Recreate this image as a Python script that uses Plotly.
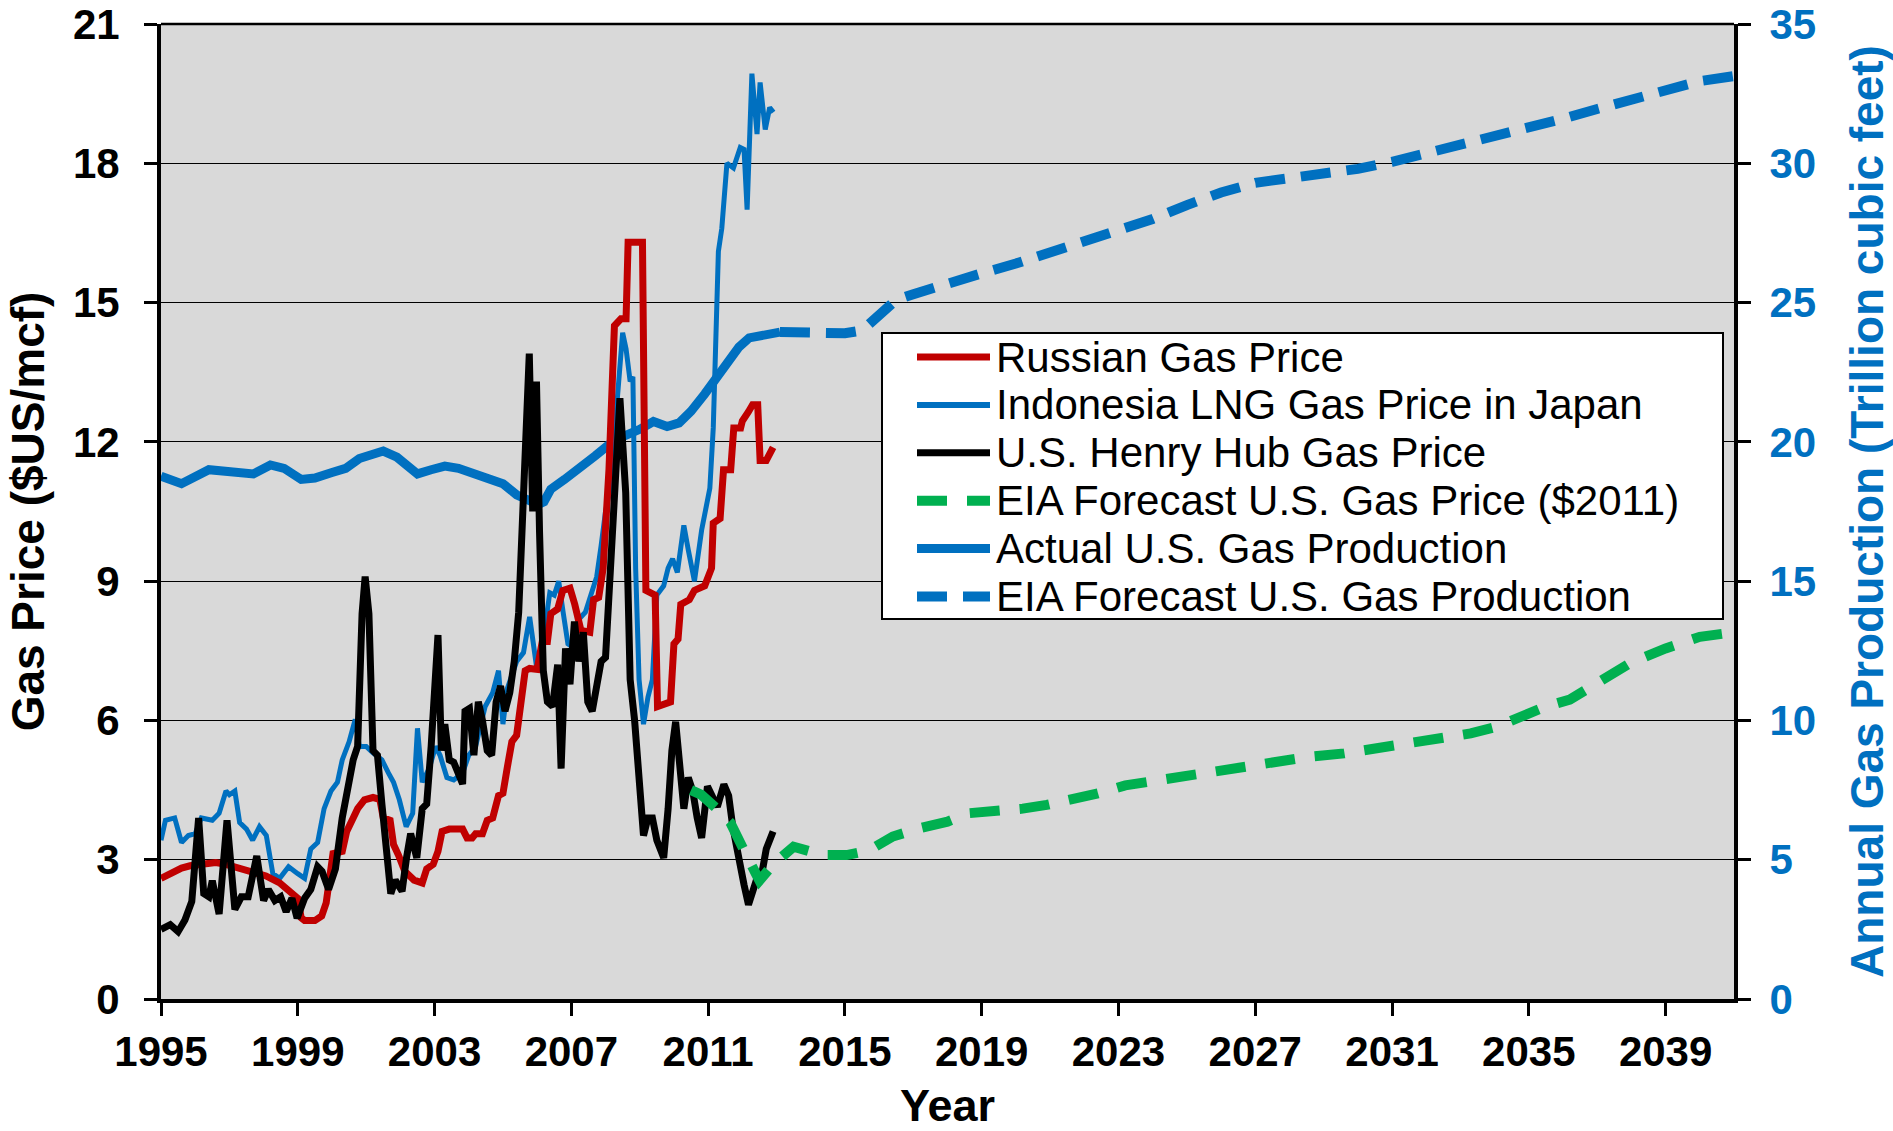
import plotly.graph_objects as go

# ---------------- data ----------------
# U.S. Henry Hub gas price ($US/mcf)
hh_year = [1995.0, 1995.27, 1995.5, 1995.7, 1995.9, 1996.1, 1996.25, 1996.4, 1996.5, 1996.7,
           1996.93, 1997.16, 1997.35, 1997.55, 1997.8, 1998.0, 1998.14, 1998.33, 1998.5, 1998.66,
           1998.83, 1998.98, 1999.2, 1999.38, 1999.58, 1999.71, 1999.9, 2000.1, 2000.3, 2000.43,
           2000.62, 2000.75, 2000.88, 2000.97, 2001.08, 2001.2, 2001.33, 2001.46, 2001.6, 2001.72,
           2001.85, 2002.05, 2002.18, 2002.3, 2002.48, 2002.64, 2002.77, 2002.9, 2003.1, 2003.2,
           2003.3, 2003.43, 2003.56, 2003.69, 2003.82, 2003.89, 2004.02, 2004.15, 2004.28, 2004.4,
           2004.54, 2004.67, 2004.8, 2004.93, 2005.06, 2005.2, 2005.33, 2005.46, 2005.6, 2005.77,
           2005.87, 2005.98, 2006.07, 2006.18, 2006.3, 2006.45, 2006.6, 2006.7, 2006.83, 2006.96,
           2007.09, 2007.22, 2007.35, 2007.48, 2007.61, 2007.74, 2007.87, 2008.0, 2008.13, 2008.26,
           2008.42, 2008.59, 2008.72, 2008.85, 2008.98, 2009.11, 2009.24, 2009.37, 2009.5, 2009.7,
           2009.83, 2009.94, 2010.05, 2010.16, 2010.29, 2010.42, 2010.55, 2010.68, 2010.81, 2010.98,
           2011.14, 2011.27, 2011.46, 2011.6, 2011.72, 2011.9, 2012.05, 2012.18, 2012.31, 2012.45,
           2012.57, 2012.7, 2012.9]
hh_price = [1.5, 1.6, 1.45, 1.7, 2.1, 3.9, 2.27, 2.2, 2.55, 1.83,
            3.85, 1.93, 2.2, 2.2, 3.08, 2.12, 2.36, 2.12, 2.2, 1.88,
            2.17, 1.74, 2.17, 2.36, 2.85, 2.75, 2.36, 2.8, 3.9, 4.4,
            5.15, 5.44, 8.3, 9.1, 8.3, 5.35, 5.25, 4.2, 3.04, 2.27,
            2.56, 2.32, 3.04, 3.56, 3.04, 4.1, 4.2, 5.44, 7.84, 5.35,
            5.92, 5.15, 5.1, 4.87, 4.63, 6.2, 6.26, 5.25, 6.4, 6.0,
            5.35, 5.25, 6.4, 6.74, 6.2, 6.6, 7.27, 8.33, 10.9, 13.9,
            10.5, 13.3, 10.05, 7.07, 6.4, 6.3, 7.2, 4.96, 7.55, 6.78,
            8.13, 7.27, 7.9, 6.4, 6.2, 6.78, 7.27, 7.36, 9.28, 11.2,
            12.94, 10.9, 6.88, 6.0, 4.96, 3.52, 3.9, 3.9, 3.42, 3.04,
            4.1, 5.35, 5.97, 5.25, 4.1, 4.77, 4.48, 3.9, 3.47, 4.58,
            4.29, 4.14, 4.62, 4.38, 3.71, 2.94, 2.46, 2.03, 2.36, 2.65,
            2.7, 3.23, 3.61]

# Russian gas price ($US/mcf)
ru_year = [1995.0, 1995.25, 1995.6, 1995.85, 1996.1, 1996.6, 1996.9, 1997.3, 1997.7, 1998.07,
           1998.47, 1998.73, 1999.0, 1999.1, 1999.2, 1999.5, 1999.7, 1999.83, 2000.0, 2000.03,
           2000.3, 2000.43, 2000.62, 2000.75, 2000.95, 2001.2, 2001.4, 2001.5, 2001.7, 2001.8,
           2001.95, 2002.13, 2002.4, 2002.64, 2002.77, 2002.96, 2003.1, 2003.22, 2003.43, 2003.82,
           2003.95, 2004.1, 2004.2, 2004.4, 2004.54, 2004.7, 2004.87, 2005.0, 2005.13, 2005.26,
           2005.4, 2005.52, 2005.65, 2005.78, 2006.0, 2006.15, 2006.3, 2006.4, 2006.6, 2006.75,
           2006.96, 2007.1, 2007.28, 2007.54, 2007.65, 2007.8, 2007.93, 2008.1, 2008.26, 2008.45,
           2008.6, 2008.66, 2009.08, 2009.18, 2009.45, 2009.52, 2009.9, 2010.0, 2010.12, 2010.2,
           2010.45, 2010.6, 2010.9, 2011.1, 2011.15, 2011.35, 2011.45, 2011.66, 2011.75, 2011.95,
           2012.0, 2012.18, 2012.3, 2012.45, 2012.52, 2012.7, 2012.9]
ru_price = [2.6, 2.7, 2.82, 2.87, 2.9, 2.94, 2.9, 2.82, 2.75, 2.65,
            2.5, 2.32, 2.17, 1.75, 1.69, 1.69, 1.79, 2.07, 2.9, 3.13,
            3.18, 3.61, 3.9, 4.1, 4.29, 4.34, 4.3, 3.9, 3.85, 3.33,
            3.09, 2.75, 2.56, 2.5, 2.8, 2.9, 3.18, 3.61, 3.66, 3.66,
            3.47, 3.47, 3.56, 3.56, 3.85, 3.9, 4.38, 4.43, 5.0, 5.54,
            5.68, 6.26, 7.07, 7.12, 7.1, 7.7, 7.7, 8.3, 8.4, 8.8,
            8.85, 8.5, 7.94, 7.9, 8.6, 8.65, 9.28, 11.4, 14.5, 14.65,
            14.65, 16.3, 16.3, 8.8, 8.7, 6.3, 6.4, 7.65, 7.75, 8.5,
            8.6, 8.8, 8.9, 9.28, 10.25, 10.35, 11.4, 11.4, 12.3, 12.3,
            12.45, 12.65, 12.8, 12.8, 11.6, 11.6, 11.88]

# Indonesia LNG gas price in Japan ($US/mcf)
id_year = [1995.0, 1995.13, 1995.4, 1995.6, 1995.8, 1996.0, 1996.18, 1996.5, 1996.7, 1996.9,
           1997.0, 1997.16, 1997.3, 1997.5, 1997.68, 1997.88, 1998.08, 1998.27, 1998.47, 1998.73,
           1999.0, 1999.2, 1999.38, 1999.58, 1999.77, 1999.97, 2000.16, 2000.3, 2000.5, 2000.68,
           2000.8, 2001.0, 2001.2, 2001.46, 2001.65, 2001.8, 2001.97, 2002.17, 2002.36, 2002.5,
           2002.64, 2002.84, 2003.03, 2003.16, 2003.36, 2003.56, 2003.82, 2004.0, 2004.2, 2004.48,
           2004.7, 2004.87, 2005.0, 2005.13, 2005.4, 2005.6, 2005.78, 2005.98, 2006.18, 2006.37,
           2006.5, 2006.63, 2006.76, 2006.9, 2007.09, 2007.22, 2007.41, 2007.61, 2007.74, 2007.87,
           2008.0, 2008.13, 2008.33, 2008.5, 2008.6, 2008.72, 2008.8, 2008.88, 2008.98, 2009.11,
           2009.24, 2009.37, 2009.5, 2009.7, 2009.83, 2009.96, 2010.1, 2010.29, 2010.42, 2010.6,
           2010.81, 2010.94, 2011.05, 2011.15, 2011.22, 2011.3, 2011.4, 2011.55, 2011.74, 2011.94,
           2012.05, 2012.14, 2012.28, 2012.43, 2012.52, 2012.67, 2012.8, 2012.91]
id_price = [3.42, 3.85, 3.9, 3.37, 3.52, 3.56, 3.9, 3.85, 4.0, 4.48,
            4.4, 4.48, 3.8, 3.66, 3.42, 3.71, 3.52, 2.7, 2.6, 2.85,
            2.7, 2.6, 3.23, 3.37, 4.1, 4.48, 4.67, 5.15, 5.54, 6.02,
            5.44, 5.44, 5.3, 5.15, 4.87, 4.67, 4.29, 3.71, 4.0, 5.83,
            4.67, 4.96, 5.44, 5.25, 4.77, 4.72, 4.87, 5.25, 5.44, 6.3,
            6.6, 7.07, 5.92, 6.69, 7.27, 7.46, 8.23, 7.17, 7.75, 8.75,
            8.7, 9.0, 8.33, 7.65, 7.55, 8.18, 8.33, 8.75, 9.09, 9.76,
            10.5, 10.97, 12.65, 14.35, 14.0, 13.3, 13.4, 9.28, 6.88, 5.92,
            6.5, 6.88, 8.7, 8.9, 9.28, 9.48, 9.19, 10.2, 9.67, 9.0,
            10.1, 10.6, 11.0, 12.3, 14.0, 16.1, 16.6, 18.0, 17.9, 18.34,
            18.3, 17.0, 19.93, 18.63, 19.74, 18.73, 19.2, 19.1]

# EIA forecast U.S. gas price ($2011, $US/mcf)
gf_year = [2010.5, 2010.8, 2011.25, 2011.65, 2012.05, 2012.4, 2012.5, 2012.9, 2013.5, 2014.35,
           2015.05, 2015.7, 2016.4, 2017.2, 2018.0, 2018.6, 2019.3, 2020.2, 2020.9, 2021.7,
           2022.4, 2023.2, 2023.9, 2024.75, 2025.5, 2026.1, 2026.9, 2027.85, 2028.6, 2029.6,
           2030.2, 2031.0, 2031.75, 2032.5, 2033.3, 2034.05, 2034.75, 2035.5, 2036.2, 2037.0,
           2038.0, 2039.0, 2040.0, 2041.0]
gf_price = [4.5, 4.4, 4.1, 3.8, 3.2, 2.6, 2.55, 2.9, 3.28, 3.1,
            3.1, 3.2, 3.5, 3.68, 3.82, 4.0, 4.03, 4.1, 4.18, 4.3,
            4.43, 4.6, 4.68, 4.79, 4.86, 4.93, 5.04, 5.15, 5.22, 5.29,
            5.36, 5.43, 5.54, 5.65, 5.72, 5.86, 6.08, 6.3, 6.45, 6.8,
            7.25, 7.55, 7.8, 7.9]

# Actual U.S. gas production (trillion cubic feet)
pr_year = [1995.0, 1995.6, 1996.4, 1997.0, 1997.7, 1998.2, 1998.6, 1999.1, 1999.5, 2000.0,
           2000.4, 2000.8, 2001.5, 2001.9, 2002.25, 2002.5, 2002.9, 2003.3, 2003.7, 2004.1,
           2004.6, 2005.0, 2005.4, 2005.8, 2006.03, 2006.2, 2006.4, 2006.8, 2007.2, 2007.7,
           2008.25, 2008.6, 2009.0, 2009.4, 2009.8, 2010.15, 2010.5, 2010.9, 2011.3, 2011.65,
           2011.9, 2012.2, 2012.45, 2012.7, 2013.1]
pr_tcf = [18.77, 18.5, 19.0, 18.95, 18.85, 19.17, 19.05, 18.65, 18.7, 18.9,
          19.05, 19.4, 19.67, 19.45, 19.15, 18.85, 19.0, 19.13, 19.05, 18.88,
          18.6, 18.5, 18.1, 17.9, 17.75, 17.85, 18.3, 18.65, 19.0, 19.5,
          20.05, 20.2, 20.45, 20.73, 20.55, 20.68, 21.1, 21.72, 22.4, 23.0,
          23.4, 23.73, 23.8, 23.85, 23.94]

# EIA forecast U.S. gas production (trillion cubic feet)
pf_year = [2013.1, 2014.0, 2015.0, 2015.5, 2016.0, 2016.5, 2017.0, 2018.0, 2019.0, 2020.0,
           2021.0, 2022.0, 2023.0, 2024.0, 2025.0, 2026.0, 2027.0, 2028.0, 2029.0, 2030.0,
           2031.0, 2032.0, 2033.0, 2034.0, 2035.0, 2036.0, 2037.0, 2038.0, 2039.0, 2040.0,
           2041.0]
pf_tcf = [23.94, 23.9, 23.9, 24.0, 24.6, 25.1, 25.3, 25.7, 26.05, 26.4,
          26.8, 27.2, 27.6, 28.0, 28.5, 28.95, 29.3, 29.45, 29.6, 29.8,
          30.05, 30.35, 30.65, 30.95, 31.25, 31.6, 31.95, 32.3, 32.65, 32.95,
          33.13]

legend_labels = ["Russian Gas Price", "Indonesia LNG Gas Price in Japan",
                 "U.S. Henry Hub Gas Price", "EIA Forecast U.S. Gas Price ($2011)",
                 "Actual U.S. Gas Production", "EIA Forecast U.S. Gas Production"]

# ---------------- styling ----------------
FONT = "Liberation Sans, Arial, Helvetica, sans-serif"
RED = "#C00000"
BLUE = "#0070C0"
BLACK = "#000000"
GREEN = "#00B050"
GREEN_DASH = "30px,20px"
PROD_DASH = "30px,16px"

L, R, T, B = 161, 159, 24, 132
W, H = 1893, 1131
PW, PH = W - L - R, H - T - B


def px_x(px):
    return (px - L) / PW


def px_y(py):
    return (H - B - py) / PH


fig = go.Figure()

# production on the main (right-side) axis so that prices draw on top
fig.add_trace(go.Scatter(x=pr_year, y=pr_tcf, mode="lines", name=legend_labels[4],
                         line=dict(color=BLUE, width=9), yaxis="y"))
fig.add_trace(go.Scatter(x=pf_year, y=pf_tcf, mode="lines", name=legend_labels[5],
                         line=dict(color=BLUE, width=10, dash=PROD_DASH), yaxis="y"))
fig.add_trace(go.Scatter(x=id_year, y=id_price, mode="lines", name=legend_labels[1],
                         line=dict(color=BLUE, width=5), yaxis="y2"))
fig.add_trace(go.Scatter(x=ru_year, y=ru_price, mode="lines", name=legend_labels[0],
                         line=dict(color=RED, width=7), yaxis="y2"))
fig.add_trace(go.Scatter(x=hh_year, y=hh_price, mode="lines", name=legend_labels[2],
                         line=dict(color=BLACK, width=7), yaxis="y2"))
fig.add_trace(go.Scatter(x=gf_year, y=gf_price, mode="lines", name=legend_labels[3],
                         line=dict(color=GREEN, width=10, dash=GREEN_DASH), yaxis="y2"))

tick_common = dict(ticks="outside", ticklen=13, tickwidth=3, tickcolor="black",
                   showline=True, linewidth=4, linecolor="black", zeroline=False)

fig.update_layout(
    width=W, height=H,
    margin=dict(l=L, r=R, t=T, b=B, autoexpand=False),
    paper_bgcolor="white", plot_bgcolor="#D9D9D9",
    showlegend=False,
    font=dict(family=FONT, color="black"),
    xaxis=dict(range=[1995, 2041], tickmode="linear", tick0=1995, dtick=4,
               showgrid=False, ticklabelstandoff=0,
               tickfont=dict(size=42, weight="bold", color="black"),
               title=dict(text="Year", font=dict(size=45, weight="bold", color="black"),
                          standoff=26),
               **tick_common),
    yaxis=dict(range=[0, 35], side="right", tickmode="linear", tick0=0, dtick=5,
               showgrid=True, gridcolor="black", gridwidth=1.4, ticklabelstandoff=10,
               tickfont=dict(size=42, weight="bold", color=BLUE),
               title=dict(text="Annual Gas Production (Trillion cubic feet)",
                          font=dict(size=46, weight="bold", color=BLUE), standoff=39),
               **tick_common),
    yaxis2=dict(range=[0, 21], side="left", overlaying="y", tickmode="linear", tick0=0,
                dtick=3, showgrid=False, ticklabelstandoff=16,
                tickfont=dict(size=42, weight="bold", color="black"),
                title=dict(text="Gas Price ($US/mcf)",
                           font=dict(size=46, weight="bold", color="black"), standoff=15),
                **tick_common),
)

# top border of the plot area
shapes = [dict(type="line", xref="paper", yref="paper", x0=0, x1=1, y0=1, y1=1,
               line=dict(color="black", width=2.5))]

# legend box (drawn manually for exact row spacing)
shapes.append(dict(type="rect", xref="paper", yref="paper",
                   x0=px_x(882), x1=px_x(1723), y0=px_y(619), y1=px_y(333),
                   fillcolor="white", line=dict(color="black", width=2), layer="above"))

legend_styles = [(RED, 7, "solid"), (BLUE, 6, "solid"), (BLACK, 7, "solid"),
                 (GREEN, 10, GREEN_DASH), (BLUE, 9, "solid"), (BLUE, 10, PROD_DASH)]
annotations = []
for i, (label, (col, wd, ds)) in enumerate(zip(legend_labels, legend_styles)):
    yy = 357 + i * 47.9
    shapes.append(dict(type="line", xref="paper", yref="paper",
                       x0=px_x(917), x1=px_x(990), y0=px_y(yy), y1=px_y(yy),
                       line=dict(color=col, width=wd, dash=ds), layer="above"))
    annotations.append(dict(xref="paper", yref="paper", x=px_x(994), y=px_y(yy),
                            xanchor="left", yanchor="middle", showarrow=False,
                            text=label, font=dict(size=42, color="black", family=FONT)))

fig.update_layout(shapes=shapes, annotations=annotations)

fig.write_html("out.html", config={"displayModeBar": False},
               post_script="document.body.style.margin='0';document.body.style.overflow='hidden';")
